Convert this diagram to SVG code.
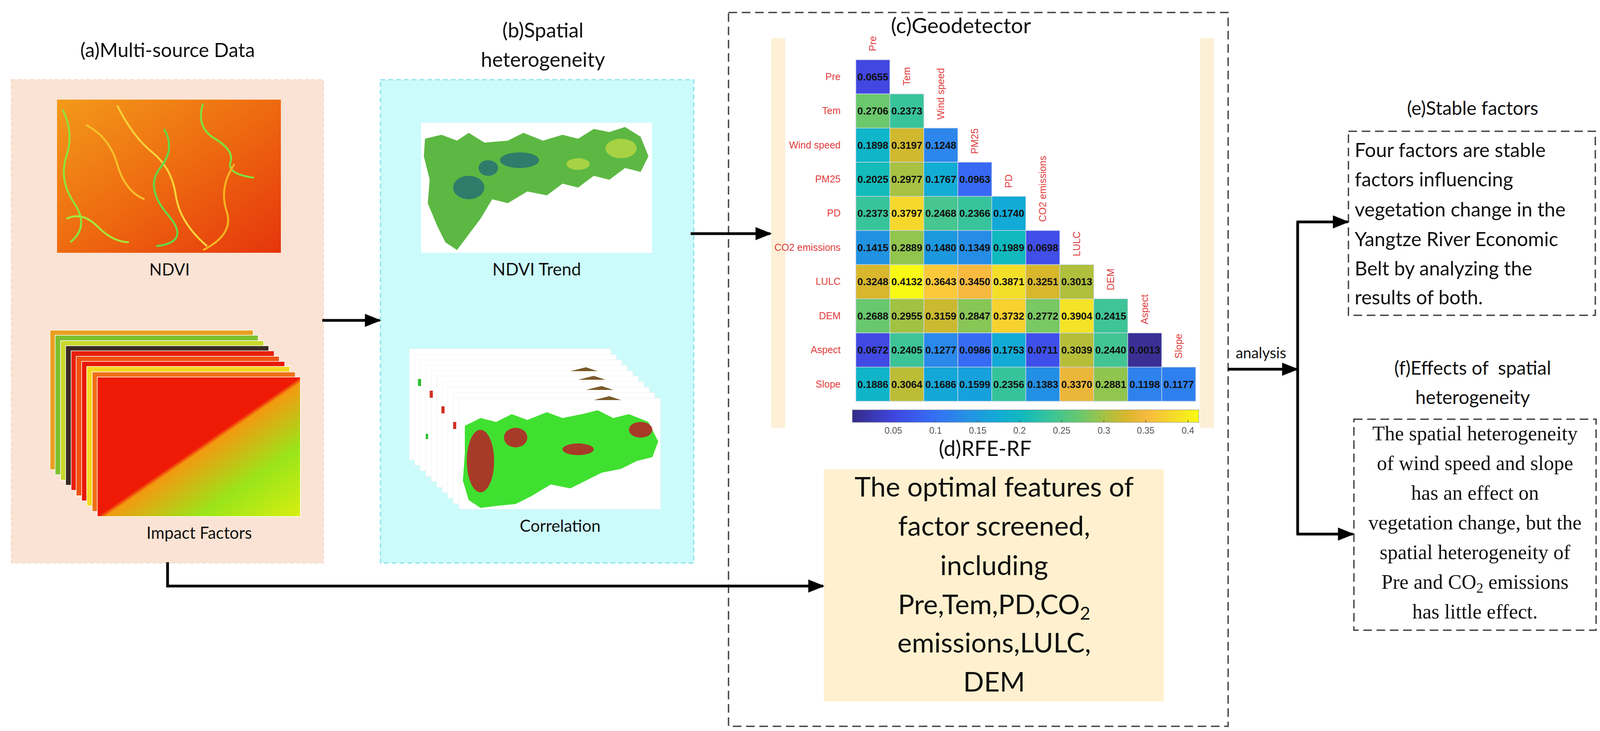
<svg xmlns="http://www.w3.org/2000/svg" width="4250" height="1871" viewBox="0 0 4250 1871">
<style>
.t{font-family:Lato,"Liberation Sans",sans-serif;fill:#111}
.c{text-anchor:middle}
.v{font-family:"Liberation Sans",Arial,sans-serif;font-weight:bold;font-size:26px;text-anchor:middle;fill:#111}
.rl{font-family:"Liberation Sans",Arial,sans-serif;font-size:25px;fill:#e23c3c;text-anchor:end}
.cl{font-family:"Liberation Sans",Arial,sans-serif;font-size:25px;fill:#e23c3c}
.tk{font-family:"Liberation Sans",Arial,sans-serif;font-size:23px;fill:#555;text-anchor:middle}
.ser{font-family:"Liberation Serif","Times New Roman",serif;font-size:52px;fill:#111;text-anchor:middle}
.cell{stroke:#c9d6e6;stroke-width:1.5}
.con{stroke:#000;stroke-width:7;fill:none}
.dash{fill:none;stroke:#444;stroke-width:3.5;stroke-dasharray:22 12}
</style>
<defs>
<marker id="ah" viewBox="0 0 10 10" refX="9" refY="5" markerWidth="6" markerHeight="6" markerUnits="strokeWidth" orient="auto"><path d="M0,1 L10,5 L0,9 z" fill="#000"/></marker>
<linearGradient id="parula" x1="0" x2="1" y1="0" y2="0">
<stop offset="0" stop-color="#352a87"/><stop offset="0.12" stop-color="#3e46e0"/><stop offset="0.24" stop-color="#3570f5"/><stop offset="0.33" stop-color="#2590e4"/><stop offset="0.42" stop-color="#12abd5"/><stop offset="0.49" stop-color="#11b9bd"/><stop offset="0.57" stop-color="#38c49a"/><stop offset="0.66" stop-color="#6bc86c"/><stop offset="0.73" stop-color="#a7c142"/><stop offset="0.79" stop-color="#d8b72d"/><stop offset="0.85" stop-color="#f7b93e"/><stop offset="0.92" stop-color="#f5d82b"/><stop offset="1" stop-color="#f9fa14"/>
</linearGradient>
<linearGradient id="ndvi" x1="0" x2="1" y1="0" y2="1"><stop offset="0" stop-color="#f39a1a"/><stop offset="0.5" stop-color="#ee6a10"/><stop offset="1" stop-color="#e5350c"/></linearGradient>
<linearGradient id="front" x1="0" x2="1" y1="0" y2="1"><stop offset="0.5" stop-color="#ee1a06"/><stop offset="0.52" stop-color="#f39a10"/><stop offset="0.75" stop-color="#9ae51a"/><stop offset="1" stop-color="#d8ee10"/></linearGradient>
</defs>

<g id="nodeA">
<rect x="29" y="204" width="799" height="1237" fill="#fae3d4" stroke="#f3d3c0" stroke-width="2" stroke-dasharray="10 6"/>
<text class="t c" x="429" y="146" font-size="50">(a)Multi-source Data</text>
<rect x="146" y="255" width="573" height="392" fill="url(#ndvi)"/>
<g fill="none" stroke-width="5">
<path d="M160,280 q30,60 10,120 t20,120 t-10,100" stroke="#8fe23a"/>
<path d="M300,270 q40,80 90,120 t60,110 t80,130" stroke="#f7d23a"/>
<path d="M520,265 q-20,60 30,90 t40,60 t60,40" stroke="#7fe040"/>
<path d="M420,330 q30,50 -10,100 t20,120 t-30,80" stroke="#63d84a"/>
<path d="M220,320 q60,30 80,100 t70,90" stroke="#f6c02a"/>
<path d="M600,420 q-40,60 -20,120 t-60,100" stroke="#f5b420"/>
<path d="M170,560 q40,-20 80,20 t80,40" stroke="#a6e63a"/>
</g>
<text class="t c" x="434" y="705" font-size="42">NDVI</text>
<g stroke="#fff" stroke-width="1.5">
<rect x="128" y="845" width="520" height="357" fill="#e8a020"/>
<rect x="141" y="858" width="520" height="357" fill="#7fbf30"/>
<rect x="155" y="872" width="520" height="357" fill="#c8d82a"/>
<rect x="168" y="885" width="520" height="357" fill="#3a2a22"/>
<rect x="182" y="898" width="520" height="357" fill="#e8200a"/>
<rect x="195" y="912" width="520" height="357" fill="#f05010"/>
<rect x="209" y="925" width="520" height="357" fill="#e81808"/>
<rect x="222" y="938" width="520" height="357" fill="#f4d820"/>
<rect x="236" y="952" width="520" height="357" fill="#f07018"/>
<rect x="249" y="965" width="520" height="357" fill="url(#front)"/>
</g>
<text class="t c" x="510" y="1379" font-size="42">Impact Factors</text>
</g>

<g id="nodeB">
<rect x="974" y="204" width="802" height="1237" fill="#ccfbfb" stroke="#86e2ee" stroke-width="3" stroke-dasharray="12 8"/>
<text class="t c" x="1390" y="96" font-size="52">(b)Spatial</text>
<text class="t c" x="1390" y="171" font-size="52">heterogeneity</text>
<rect x="1078" y="314" width="591" height="333" fill="#fff"/>
<path d="M1088,355 L1130,345 L1170,360 L1200,340 L1240,365 L1300,360 L1340,340 L1390,360 L1440,345 L1480,355 L1520,330 L1560,338 L1600,325 L1640,350 L1660,400 L1640,440 L1600,430 L1560,460 L1520,450 L1480,480 L1440,470 L1400,500 L1350,490 L1300,520 L1260,510 L1230,560 L1200,600 L1170,640 L1140,620 L1120,580 L1095,520 L1100,460 L1085,400 Z" fill="#5cb843"/>
<g fill="#2e7d6a"><ellipse cx="1200" cy="480" rx="40" ry="30"/><ellipse cx="1330" cy="410" rx="50" ry="20"/><ellipse cx="1250" cy="430" rx="25" ry="20"/></g>
<g fill="#a7d244"><ellipse cx="1590" cy="380" rx="40" ry="25"/><ellipse cx="1480" cy="420" rx="30" ry="15"/></g>
<text class="t c" x="1374" y="705" font-size="44">NDVI Trend</text>
<g fill="#fff" stroke="#f0f0f0" stroke-width="1">
<rect x="1048" y="893" width="516" height="284"/>
<rect x="1062" y="907" width="516" height="284"/>
<rect x="1076" y="921" width="516" height="284"/>
<rect x="1090" y="935" width="516" height="284"/>
<rect x="1104" y="949" width="516" height="284"/>
<rect x="1118" y="963" width="516" height="284"/>
<rect x="1132" y="977" width="516" height="284"/>
<rect x="1146" y="991" width="516" height="284"/>
<rect x="1160" y="1005" width="516" height="284"/>
<rect x="1175" y="1019" width="516" height="284"/>
</g>
<g fill="#7a5a2a"><path d="M1460,950 l40,-10 l30,10z"/><path d="M1480,972 l40,-10 l30,10z"/><path d="M1500,998 l40,-10 l30,10z"/><path d="M1520,1024 l40,-10 l30,10z"/></g>
<g fill="#d03020"><rect x="1100" y="1000" width="8" height="18"/><rect x="1130" y="1040" width="8" height="18"/><rect x="1160" y="1080" width="8" height="18"/></g>
<g fill="#30c030"><rect x="1070" y="970" width="8" height="18"/><rect x="1090" y="1110" width="6" height="14"/></g>
<path d="M1190,1090 L1230,1070 L1270,1080 L1310,1060 L1350,1075 L1400,1055 L1440,1070 L1490,1060 L1530,1050 L1570,1070 L1610,1060 L1660,1080 L1685,1130 L1670,1170 L1630,1180 L1590,1200 L1540,1210 L1500,1230 L1460,1250 L1410,1240 L1360,1270 L1320,1290 L1270,1295 L1230,1300 L1200,1280 L1185,1230 L1190,1160 Z" fill="#40e030"/>
<g fill="#a83a28"><ellipse cx="1230" cy="1180" rx="35" ry="80"/><ellipse cx="1320" cy="1120" rx="30" ry="25"/><ellipse cx="1640" cy="1100" rx="30" ry="20"/><ellipse cx="1480" cy="1150" rx="40" ry="15"/></g>
<text class="t c" x="1434" y="1361" font-size="42">Correlation</text>
</g>

<g id="nodeC">
<rect x="1865" y="32" width="1279" height="1827" class="dash"/>
<text class="t c" x="2460" y="85" font-size="55">(c)Geodetector</text>
<rect x="1974" y="98" width="36" height="997" fill="#fdf0d6"/>
<rect x="3072" y="98" width="36" height="997" fill="#fdf0d6"/>
<g id="matrix">
<g class="rl">
<text x="2152" y="205">Pre</text><text x="2152" y="292">Tem</text><text x="2152" y="380">Wind speed</text><text x="2152" y="467">PM25</text><text x="2152" y="554">PD</text><text x="2152" y="642">CO2 emissions</text><text x="2152" y="729">LULC</text><text x="2152" y="817">DEM</text><text x="2152" y="904">Aspect</text><text x="2152" y="992">Slope</text>
</g>
<g class="cl">
<text transform="translate(2243,131) rotate(-90)">Pre</text>
<text transform="translate(2330,219) rotate(-90)">Tem</text>
<text transform="translate(2417,306) rotate(-90)">Wind speed</text>
<text transform="translate(2504,394) rotate(-90)">PM25</text>
<text transform="translate(2591,481) rotate(-90)">PD</text>
<text transform="translate(2678,568) rotate(-90)">CO2 emissions</text>
<text transform="translate(2765,656) rotate(-90)">LULC</text>
<text transform="translate(2852,743) rotate(-90)">DEM</text>
<text transform="translate(2939,830) rotate(-90)">Aspect</text>
<text transform="translate(3026,918) rotate(-90)">Slope</text>
</g>
<g class="cell">
<rect x="2191" y="153" width="87" height="87.4" fill="#4147e0"/>
<rect x="2191" y="240.4" width="87" height="87.4" fill="#6bc86c"/><rect x="2278" y="240.4" width="87" height="87.4" fill="#38c49a"/>
<rect x="2191" y="327.8" width="87" height="87.4" fill="#0fb5c8"/><rect x="2278" y="327.8" width="87" height="87.4" fill="#d0b92e"/><rect x="2365" y="327.8" width="87" height="87.4" fill="#2d86ec"/>
<rect x="2191" y="415.2" width="87" height="87.4" fill="#13bbb9"/><rect x="2278" y="415.2" width="87" height="87.4" fill="#a7c142"/><rect x="2365" y="415.2" width="87" height="87.4" fill="#12acd4"/><rect x="2452" y="415.2" width="87" height="87.4" fill="#3869f4"/>
<rect x="2191" y="502.6" width="87" height="87.4" fill="#38c49a"/><rect x="2278" y="502.6" width="87" height="87.4" fill="#f5d82b"/><rect x="2365" y="502.6" width="87" height="87.4" fill="#47c68f"/><rect x="2452" y="502.6" width="87" height="87.4" fill="#37c39b"/><rect x="2539" y="502.6" width="87" height="87.4" fill="#12aad6"/>
<rect x="2191" y="590" width="87" height="87.4" fill="#2192e2"/><rect x="2278" y="590" width="87" height="87.4" fill="#92c54e"/><rect x="2365" y="590" width="87" height="87.4" fill="#1c98df"/><rect x="2452" y="590" width="87" height="87.4" fill="#268de6"/><rect x="2539" y="590" width="87" height="87.4" fill="#10b9be"/><rect x="2626" y="590" width="87" height="87.4" fill="#414ee8"/>
<rect x="2191" y="677.4" width="87" height="87.4" fill="#d8b72d"/><rect x="2278" y="677.4" width="87" height="87.4" fill="#f9fa14"/><rect x="2365" y="677.4" width="87" height="87.4" fill="#fcc93a"/><rect x="2452" y="677.4" width="87" height="87.4" fill="#f7b93e"/><rect x="2539" y="677.4" width="87" height="87.4" fill="#f4df28"/><rect x="2626" y="677.4" width="87" height="87.4" fill="#d8b72d"/><rect x="2713" y="677.4" width="87" height="87.4" fill="#b0bf3c"/>
<rect x="2191" y="764.8" width="87" height="87.4" fill="#68c86e"/><rect x="2278" y="764.8" width="87" height="87.4" fill="#a2c244"/><rect x="2365" y="764.8" width="87" height="87.4" fill="#cbba30"/><rect x="2452" y="764.8" width="87" height="87.4" fill="#88c655"/><rect x="2539" y="764.8" width="87" height="87.4" fill="#f7d12f"/><rect x="2626" y="764.8" width="87" height="87.4" fill="#78c863"/><rect x="2713" y="764.8" width="87" height="87.4" fill="#f4e326"/><rect x="2800" y="764.8" width="87" height="87.4" fill="#3ec496"/>
<rect x="2191" y="852.2" width="87" height="87.4" fill="#4149e2"/><rect x="2278" y="852.2" width="87" height="87.4" fill="#3cc497"/><rect x="2365" y="852.2" width="87" height="87.4" fill="#2a89ea"/><rect x="2452" y="852.2" width="87" height="87.4" fill="#366cf4"/><rect x="2539" y="852.2" width="87" height="87.4" fill="#12abd5"/><rect x="2626" y="852.2" width="87" height="87.4" fill="#3f50ea"/><rect x="2713" y="852.2" width="87" height="87.4" fill="#b6be39"/><rect x="2800" y="852.2" width="87" height="87.4" fill="#42c593"/><rect x="2887" y="852.2" width="87" height="87.4" fill="#3b2f96"/>
<rect x="2191" y="939.6" width="87" height="87.4" fill="#0fb4c9"/><rect x="2278" y="939.6" width="87" height="87.4" fill="#bcbd36"/><rect x="2365" y="939.6" width="87" height="87.4" fill="#13a7d8"/><rect x="2452" y="939.6" width="87" height="87.4" fill="#16a1dc"/><rect x="2539" y="939.6" width="87" height="87.4" fill="#36c39c"/><rect x="2626" y="939.6" width="87" height="87.4" fill="#238fe4"/><rect x="2713" y="939.6" width="87" height="87.4" fill="#ebb73a"/><rect x="2800" y="939.6" width="87" height="87.4" fill="#90c550"/><rect x="2887" y="939.6" width="87" height="87.4" fill="#2e82ee"/><rect x="2974" y="939.6" width="87" height="87.4" fill="#2f80ef"/>
</g>
<g class="v">
<text x="2234.5" y="206">0.0655</text>
<text x="2234.5" y="293">0.2706</text><text x="2321.5" y="293">0.2373</text>
<text x="2234.5" y="381">0.1898</text><text x="2321.5" y="381">0.3197</text><text x="2408.5" y="381">0.1248</text>
<text x="2234.5" y="468">0.2025</text><text x="2321.5" y="468">0.2977</text><text x="2408.5" y="468">0.1767</text><text x="2495.5" y="468">0.0963</text>
<text x="2234.5" y="555">0.2373</text><text x="2321.5" y="555">0.3797</text><text x="2408.5" y="555">0.2468</text><text x="2495.5" y="555">0.2366</text><text x="2582.5" y="555">0.1740</text>
<text x="2234.5" y="643">0.1415</text><text x="2321.5" y="643">0.2889</text><text x="2408.5" y="643">0.1480</text><text x="2495.5" y="643">0.1349</text><text x="2582.5" y="643">0.1989</text><text x="2669.5" y="643">0.0698</text>
<text x="2234.5" y="730">0.3248</text><text x="2321.5" y="730">0.4132</text><text x="2408.5" y="730">0.3643</text><text x="2495.5" y="730">0.3450</text><text x="2582.5" y="730">0.3871</text><text x="2669.5" y="730">0.3251</text><text x="2756.5" y="730">0.3013</text>
<text x="2234.5" y="818">0.2688</text><text x="2321.5" y="818">0.2955</text><text x="2408.5" y="818">0.3159</text><text x="2495.5" y="818">0.2847</text><text x="2582.5" y="818">0.3732</text><text x="2669.5" y="818">0.2772</text><text x="2756.5" y="818">0.3904</text><text x="2843.5" y="818">0.2415</text>
<text x="2234.5" y="905">0.0672</text><text x="2321.5" y="905">0.2405</text><text x="2408.5" y="905">0.1277</text><text x="2495.5" y="905">0.0986</text><text x="2582.5" y="905">0.1753</text><text x="2669.5" y="905">0.0711</text><text x="2756.5" y="905">0.3039</text><text x="2843.5" y="905">0.2440</text><text x="2930.5" y="905">0.0013</text>
<text x="2234.5" y="993">0.1886</text><text x="2321.5" y="993">0.3064</text><text x="2408.5" y="993">0.1686</text><text x="2495.5" y="993">0.1599</text><text x="2582.5" y="993">0.2356</text><text x="2669.5" y="993">0.1383</text><text x="2756.5" y="993">0.3370</text><text x="2843.5" y="993">0.2881</text><text x="2930.5" y="993">0.1198</text><text x="3017.5" y="993">0.1177</text>
</g>
<rect x="2182" y="1049" width="887" height="32" fill="url(#parula)" stroke="#888" stroke-width="1"/>
<g stroke="#555" stroke-width="1.5"><path d="M2287,1081v-6M2395,1081v-6M2503,1081v-6M2610,1081v-6M2718,1081v-6M2826,1081v-6M2933,1081v-6M3041,1081v-6"/></g>
<g class="tk"><text x="2287" y="1110">0.05</text><text x="2395" y="1110">0.1</text><text x="2503" y="1110">0.15</text><text x="2610" y="1110">0.2</text><text x="2718" y="1110">0.25</text><text x="2826" y="1110">0.3</text><text x="2933" y="1110">0.35</text><text x="3041" y="1110">0.4</text></g>
</g>
</g>

<g id="nodeD">
<text class="t c" x="2522" y="1167" font-size="54">(d)RFE-RF</text>
<rect x="2109" y="1201" width="870" height="594" fill="#fff1cf"/>
<g class="t c" font-size="70">
<text x="2545" y="1271">The optimal features of</text>
<text x="2545" y="1371">factor screened,</text>
<text x="2545" y="1472">including</text>
<text x="2545" y="1572">Pre,Tem,PD,CO<tspan font-size="46" dy="14">2</tspan></text>
<text x="2545" y="1670">emissions,LULC,</text>
<text x="2545" y="1770">DEM</text>
</g>
</g>

<g id="nodeE">
<text class="t c" x="3770" y="294" font-size="48">(e)Stable factors</text>
<rect x="3452" y="336" width="632" height="471" class="dash"/>
<g class="t" font-size="50">
<text x="3468" y="402">Four factors are stable</text>
<text x="3468" y="477">factors influencing</text>
<text x="3468" y="554">vegetation change in the</text>
<text x="3468" y="630">Yangtze River Economic</text>
<text x="3468" y="705">Belt by analyzing the</text>
<text x="3468" y="779">results of both.</text>
</g>
</g>

<g id="nodeF">
<text class="t c" x="3770" y="959" font-size="48" xml:space="preserve">(f)Effects of  spatial</text>
<text class="t c" x="3770" y="1034" font-size="48">heterogeneity</text>
<rect x="3466" y="1073" width="620" height="540" class="dash"/>
<text class="ser" x="3776" y="1127">The spatial heterogeneity</text>
<text class="ser" x="3776" y="1203">of wind speed and slope</text>
<text class="ser" x="3776" y="1279">has an effect on</text>
<text class="ser" x="3776" y="1355">vegetation change, but the</text>
<text class="ser" x="3776" y="1431">spatial heterogeneity of</text>
<text class="ser" x="3776" y="1507">Pre and CO<tspan font-size="36" dy="10">2</tspan><tspan dy="-10"> emissions</tspan></text>
<text class="ser" x="3776" y="1583">has little effect.</text>
</g>

<g id="connectors">
<line class="con" x1="825" y1="820" x2="972" y2="820" marker-end="url(#ah)"/>
<line class="con" x1="1768" y1="598" x2="1972" y2="598" marker-end="url(#ah)"/>
<polyline class="con" points="429,1439 429,1500 2107,1500" marker-end="url(#ah)"/>
<line class="con" x1="3144" y1="945" x2="3320" y2="945" marker-end="url(#ah)"/>
<line class="con" x1="3322" y1="568" x2="3322" y2="1367"/>
<line class="con" x1="3319" y1="568" x2="3450" y2="568" marker-end="url(#ah)"/>
<line class="con" x1="3319" y1="1367" x2="3463" y2="1367" marker-end="url(#ah)"/>
<text class="t c" x="3228" y="917" font-size="38">analysis</text>
</g>
</svg>
